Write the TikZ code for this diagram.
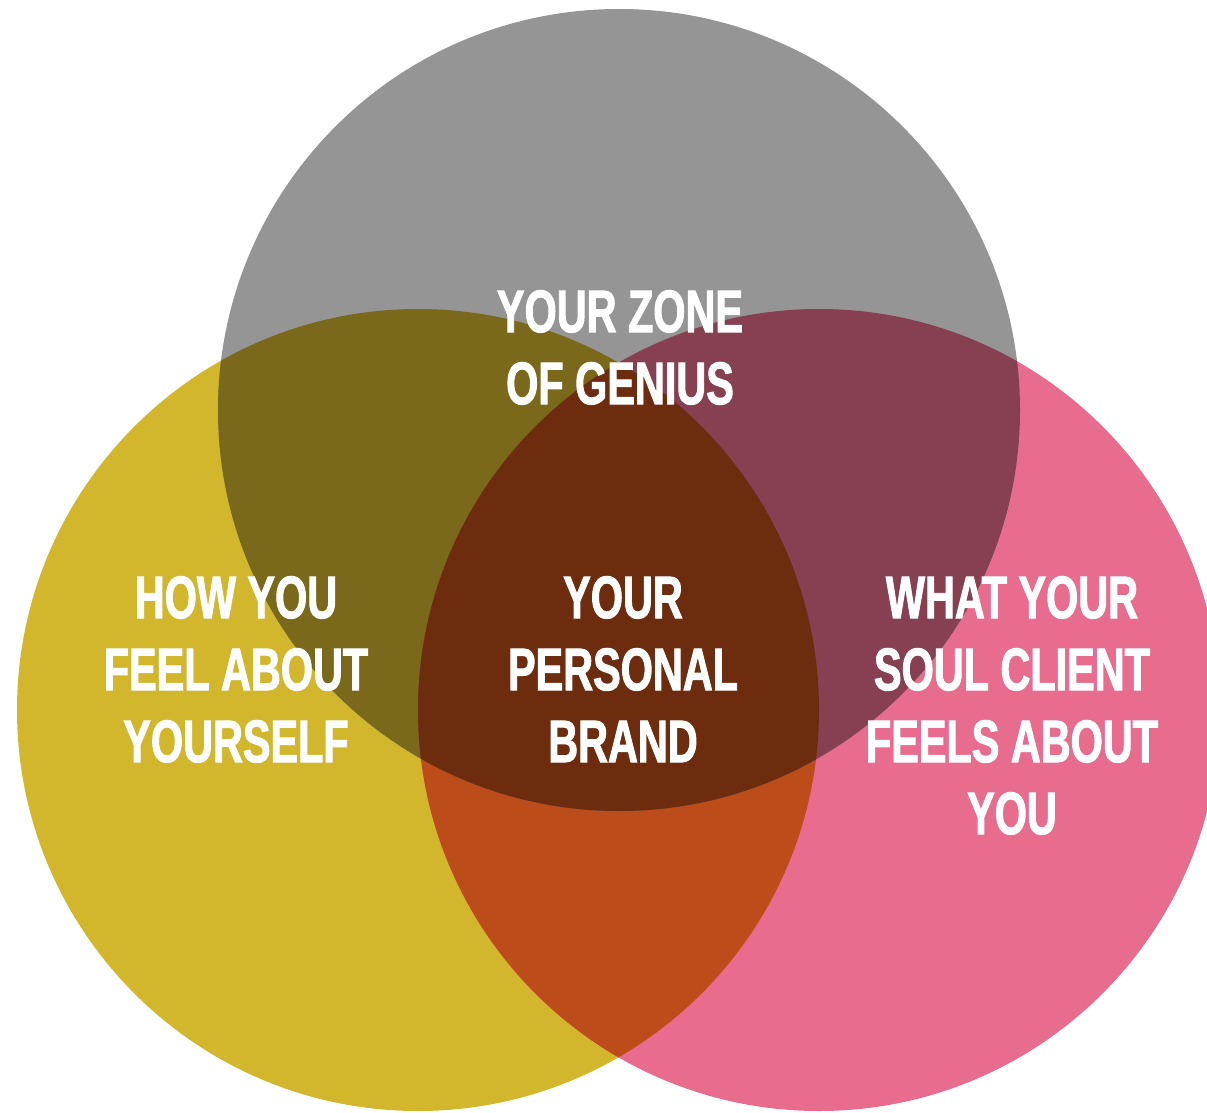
\documentclass[tikz,border=0pt]{standalone}
\usepackage{fontspec}
\newfontfamily\vennfont[FakeStretch=0.69,FakeBold=1.6]{Liberation Sans Bold}
\definecolor{cgray}{HTML}{959595}
\definecolor{cyellow}{HTML}{D2B72D}
\definecolor{cpink}{HTML}{E76C8D}
\definecolor{cgy}{HTML}{7B691B}
\definecolor{cgp}{HTML}{874051}
\definecolor{cyp}{HTML}{BC4C1A}
\definecolor{call}{HTML}{6E2C0F}
\tikzset{
  label text/.style={text=white, align=center, inner sep=0pt, anchor=north,
    font=\vennfont\fontsize{60}{72}\selectfont}
}
\begin{document}
\begin{tikzpicture}[x=1pt,y=-1pt]
\useasboundingbox (0,0) rectangle (1207,1113);
\clip (0,0) rectangle (1207,1113);
\def\G{(619pt,-410pt) circle (401pt)}
\def\Y{(418pt,-710pt) circle (401pt)}
\def\P{(819pt,-710pt) circle (401pt)}
\fill[cyellow] \Y;
\fill[cpink] \P;
\fill[cgray] \G;
\begin{scope}\clip \Y; \fill[cyp] \P; \end{scope}
\begin{scope}\clip \G; \fill[cgy] \Y; \end{scope}
\begin{scope}\clip \G; \fill[cgp] \P; \end{scope}
\begin{scope}\clip \G; \clip \Y; \fill[call] \P; \end{scope}
\node[label text] (zone) at (620,290) {YOUR ZONE\\OF GENIUS};
\node[label text] (self) at (236,576) {HOW YOU\\FEEL ABOUT\\YOURSELF};
\node[label text] (brand) at (623,576) {YOUR\\PERSONAL\\BRAND};
\node[label text] (client) at (1012,576) {WHAT YOUR\\SOUL CLIENT\\FEELS ABOUT\\YOU};
\end{tikzpicture}
\end{document}
